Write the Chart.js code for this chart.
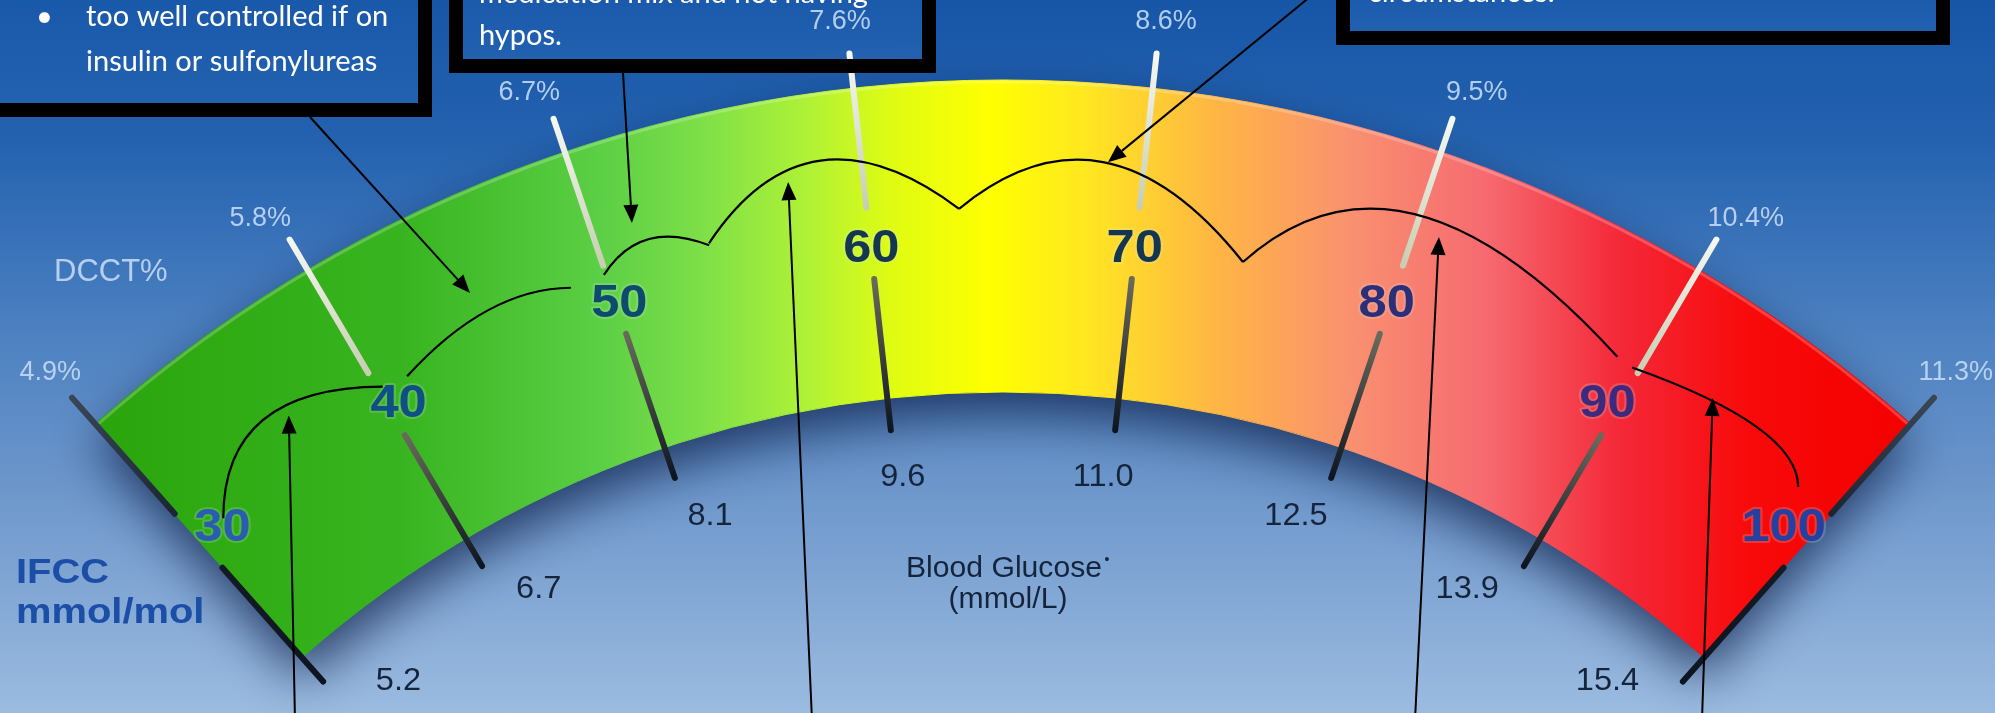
<!DOCTYPE html>
<html>
<head>
<meta charset="utf-8">
<script src="https://cdn.jsdelivr.net/npm/chart.js@4.4.1/dist/chart.umd.min.js"></script>
<style>
html, body { margin: 0; padding: 0; }
body {
  width: 1995px; height: 713px; overflow: hidden; position: relative;
  background: linear-gradient(to bottom, #1756a7 0%, #2462b0 20%, #4a7fc0 45%, #6f98cc 70%, #9bbbe0 100%);
}
#gauge { position: absolute; left: 0; top: 0; }
</style>
</head>
<body>
<canvas id="gauge" width="2006" height="2900"></canvas>
<script>
// scale values
const ifccTicks = [30, 40, 50, 60, 70, 80, 90, 100];
const dcctLabels = ['4.9%', '5.8%', '6.7%', '7.6%', '8.6%', '9.5%', '10.4%', '11.3%'];
const glucoseLabels = ['5.2', '6.7', '8.1', '9.6', '11.0', '12.5', '13.9', '15.4'];

// hand drawn brackets over the scale: [ifcc value, radius] for start, bend, end
const brackets = [
  [[31.33, 1215], [34.41, 1318], [39.48, 1231]],
  [[40.52, 1228], [44.80, 1271], [47.80, 1240]],
  [[49.18, 1241], [51.15, 1284], [53.44, 1240]],
  [[53.45, 1242], [58.06, 1369], [63.29, 1242]],
  [[63.29, 1242], [68.62, 1365], [74.63, 1212]],
  [[74.63, 1212], [79.08, 1389], [89.74, 1254]],
  [[90.44, 1252], [96.91, 1296], [98.35, 1249]]
];
// arrows: tail in page px, tip at [ifcc value, radius]
const arrows = [
  { from: [310, 117], to: [44.14, 1274] },
  { from: [623, 73], to: [50.81, 1282] },
  { from: [1311, -4], to: [68.93, 1292] },
  { from: [295, 720], to: [35.80, 1257] },
  { from: [812, 720], to: [56.89, 1286] },
  { from: [1415, 720], to: [81.67, 1289] },
  { from: [1702, 720], to: [93.68, 1269] }
];

// callout boxes (cut by the top edge)
const boxes = [
  { x: -20, y: -40, w: 452, h: 157, lines: [
    { t: '\u2022', x: 36, y: 26 },
    { t: 'too well controlled if on', x: 86, y: 26, w: 309 },
    { t: 'insulin or sulfonylureas', x: 86, y: 71, w: 301 } ] },
  { x: 449, y: -40, w: 487, h: 113, lines: [
    { t: 'medication mix and not having', x: 479, y: 3, w: 398 },
    { t: 'hypos.', x: 479, y: 45 } ] },
  { x: 1336, y: -40, w: 614, h: 85, lines: [
    { t: 'circumstances.', x: 1368, y: 2, w: 190 } ] }
];

const ifccColors = ['#2a5cb2', '#0f4f85', '#0e4a6e', '#143650', '#143650', '#2b2f7a', '#3b2a7e', '#2440a0'];
const bandStops = [
  [100, '#2aa50c'], [400, '#38b420'], [600, '#5bcf45'], [700, '#7ddf48'],
  [810, '#b0f236'], [893, '#e0fc12'], [990, '#ffff00'], [1084, '#ffe820'],
  [1218, '#ffb545'], [1352, '#f99070'], [1486, '#f66a70'], [1620, '#f42838'],
  [1750, '#f80a0a'], [1900, '#f50000']
];

const intervals = ifccTicks.slice(1).map((v, i) => v - ifccTicks[i]);
const span = ifccTicks[ifccTicks.length - 1] - ifccTicks[0];
const sweep = 83;
const gap = span * (360 - sweep) / sweep;
const outerR = 1370, innerR = 1058;

let bandFill = null;
function bandGradient(chart) {
  if (!bandFill) {
    const x0 = bandStops[0][0], x1 = bandStops[bandStops.length - 1][0];
    bandFill = chart.ctx.createLinearGradient(x0, 0, x1, 0);
    bandStops.forEach(([x, c]) => bandFill.addColorStop((x - x0) / (x1 - x0), c));
  }
  return bandFill;
}

function gaugeGeom(chart) {
  const arcs = chart.getDatasetMeta(0).data;
  const first = arcs[0], last = arcs[intervals.length - 1];
  const g = { cx: first.x, cy: first.y, ro: first.outerRadius, ri: first.innerRadius,
              a0: first.startAngle, a1: last.endAngle };
  g.mid = (g.a0 + g.a1) / 2;
  g.half = (g.a1 - g.a0) / 2;
  g.angle = v => g.a0 + (v - ifccTicks[0]) / span * (g.a1 - g.a0);
  g.pt = (a, r) => [g.cx + r * Math.cos(a), g.cy + r * Math.sin(a)];
  // the picture is drawn in perspective: marks near the top are spread a little
  g.warp = (a, k, s) => {
    const d = a - g.mid, t = d / g.half;
    return g.mid + d * (1 + k * (1 - t * t)) * s;
  };
  g.ticks = ifccTicks.map((v, i) => i < intervals.length ? arcs[i].startAngle : last.endAngle);
  return g;
}

function seg(ctx, p, q, c0, c1, w) {
  const gr = ctx.createLinearGradient(p[0], p[1], q[0], q[1]);
  gr.addColorStop(0, c0);
  gr.addColorStop(1, c1);
  ctx.strokeStyle = gr;
  ctx.lineWidth = w;
  ctx.lineCap = 'round';
  ctx.beginPath();
  ctx.moveTo(p[0], p[1]);
  ctx.lineTo(q[0], q[1]);
  ctx.stroke();
}

function label(ctx, str, x, y, font, color, sx, halo, align, base) {
  ctx.save();
  ctx.translate(x, y);
  ctx.scale(sx || 1, 1);
  ctx.font = font;
  ctx.textAlign = align || 'center';
  ctx.textBaseline = base || 'middle';
  if (halo) {
    ctx.lineWidth = 4;
    ctx.lineJoin = 'round';
    ctx.strokeStyle = halo;
    ctx.strokeText(str, 0, 0);
  }
  ctx.fillStyle = color;
  ctx.fillText(str, 0, 0);
  ctx.restore();
}

function arrow(ctx, p, q) {
  const dx = q[0] - p[0], dy = q[1] - p[1], len = Math.hypot(dx, dy);
  const ux = dx / len, uy = dy / len, hl = 18, hw = 7.5;
  const bx = q[0] - ux * hl, by = q[1] - uy * hl;
  ctx.beginPath();
  ctx.moveTo(p[0], p[1]);
  ctx.lineTo(bx, by);
  ctx.stroke();
  ctx.beginPath();
  ctx.moveTo(q[0], q[1]);
  ctx.lineTo(bx - uy * hw, by + ux * hw);
  ctx.lineTo(bx + uy * hw, by - ux * hw);
  ctx.closePath();
  ctx.fill();
}

const gaugeDecor = {
  id: 'gaugeDecor',
  beforeDatasetsDraw(chart) {
    const ctx = chart.ctx, g = gaugeGeom(chart);
    ctx.save();
    // box fills sit under the scale labels
    boxes.forEach(b => {
      const gr = ctx.createLinearGradient(0, b.y, 0, b.y + b.h);
      gr.addColorStop(0, '#1656a6');
      gr.addColorStop(1, '#2462b2');
      ctx.fillStyle = gr;
      ctx.fillRect(b.x + 14, b.y, b.w - 28, b.h - 14);
    });
    // drop shadow under the band
    ctx.shadowColor = 'rgba(12,30,70,0.75)';
    ctx.shadowBlur = 50;
    ctx.shadowOffsetY = 22;
    ctx.fillStyle = '#27508f';
    ctx.beginPath();
    ctx.arc(g.cx, g.cy, g.ro, g.a0, g.a1);
    ctx.arc(g.cx, g.cy, g.ri, g.a1, g.a0, true);
    ctx.closePath();
    ctx.fill();
    ctx.restore();
  },
  afterDatasetsDraw(chart) {
    const ctx = chart.ctx, g = gaugeGeom(chart);
    ctx.save();
    ctx.beginPath();
    ctx.arc(g.cx, g.cy, g.ro - 2, g.a0, g.a1);
    ctx.strokeStyle = 'rgba(255,255,255,0.22)';
    ctx.lineWidth = 3;
    ctx.stroke();

    g.ticks.forEach((a0, i) => {
      const end = i === 0 || i === g.ticks.length - 1;
      const a = g.warp(a0, 0.06, 1);
      seg(ctx, g.pt(a, 1405), g.pt(a, 1250), end ? '#3a4656' : '#f6f8f2', end ? '#1c2533' : '#c8ceb2', 6);
      seg(ctx, g.pt(a, 1178), g.pt(a, 1026), end ? '#131b26' : '#6a6a5c', '#0d1520', 6);

      const [xi, yi] = g.pt(g.warp(a0, 0.09, 0.97), 1208);
      label(ctx, String(ifccTicks[i]), xi, yi, 'bold 46px "Liberation Sans"', ifccColors[i], 1.1, 'rgba(210,235,225,0.2)');
      const [xd, yd] = g.pt(g.warp(a0, 0.1, 1), 1438);
      label(ctx, dcctLabels[i], xd, yd, '27px "Liberation Sans"', 'rgba(192,216,242,0.92)');
      const [xg, yg] = g.pt(g.warp(a0, 0.08, 0.92), 978);
      label(ctx, glucoseLabels[i], xg, yg, '31px "Liberation Sans"', '#16243b', 1.05);
    });

    label(ctx, 'DCCT%', 54, 281, '31px "Liberation Sans"', '#b6cfee', 1, null, 'left', 'alphabetic');
    label(ctx, 'IFCC', 16, 583, 'bold 35px "Liberation Sans"', '#1b4ea6', 1.14, null, 'left', 'alphabetic');
    label(ctx, 'mmol/mol', 16, 623, 'bold 35px "Liberation Sans"', '#1b4ea6', 1.14, null, 'left', 'alphabetic');
    label(ctx, 'Blood Glucose', 1004, 577, '29px "Liberation Sans"', '#14243d', 1.04, null, 'center', 'alphabetic');
    label(ctx, '\u2022', 1107, 564, '14px "Liberation Sans"', '#14243d', 1, null, 'center', 'alphabetic');
    label(ctx, '(mmol/L)', 1008, 608, '29px "Liberation Sans"', '#14243d', 1.04, null, 'center', 'alphabetic');
    ctx.restore();
  },
  afterDraw(chart) {
    const ctx = chart.ctx, g = gaugeGeom(chart);
    ctx.save();
    boxes.forEach(b => {
      ctx.fillStyle = '#000';
      ctx.fillRect(b.x, b.y, 14, b.h);
      ctx.fillRect(b.x + b.w - 14, b.y, 14, b.h);
      ctx.fillRect(b.x, b.y + b.h - 14, b.w, 14);
      ctx.fillStyle = '#ffffff';
      ctx.font = '29px Lato';
      ctx.textAlign = 'left';
      ctx.textBaseline = 'alphabetic';
      b.lines.forEach(l => {
        if (l.w) ctx.fillText(l.t, l.x, l.y, l.w);
        else ctx.fillText(l.t, l.x, l.y);
      });
    });

    ctx.strokeStyle = '#000';
    ctx.fillStyle = '#000';
    ctx.lineWidth = 2.2;
    brackets.forEach(([s, c, e]) => {
      const p0 = g.pt(g.angle(s[0]), s[1]);
      const p1 = g.pt(g.angle(c[0]), c[1]);
      const p2 = g.pt(g.angle(e[0]), e[1]);
      ctx.beginPath();
      ctx.moveTo(p0[0], p0[1]);
      ctx.quadraticCurveTo(p1[0], p1[1], p2[0], p2[1]);
      ctx.stroke();
    });
    ctx.lineWidth = 2;
    arrows.forEach(a => arrow(ctx, a.from, g.pt(g.angle(a.to[0]), a.to[1])));
    ctx.restore();
  }
};

new Chart(document.getElementById('gauge'), {
  type: 'doughnut',
  data: {
    labels: intervals.map((d, i) => ifccTicks[i] + '-' + ifccTicks[i + 1]).concat(['']),
    datasets: [{
      data: intervals.concat([gap]),
      backgroundColor: c => c.dataIndex < intervals.length ? bandGradient(c.chart) : 'rgba(0,0,0,0)',
      borderColor: c => c.dataIndex < intervals.length ? bandGradient(c.chart) : 'rgba(0,0,0,0)',
      borderWidth: 1,
      hoverOffset: 0
    }]
  },
  options: {
    responsive: false,
    animation: false,
    devicePixelRatio: 1,
    events: [],
    rotation: -sweep / 2,
    circumference: 360,
    radius: outerR,
    cutout: (innerR / outerR * 100) + '%',
    layout: { padding: 0 },
    plugins: { legend: { display: false }, tooltip: { enabled: false } }
  },
  plugins: [gaugeDecor]
});
</script>
</body>
</html>
